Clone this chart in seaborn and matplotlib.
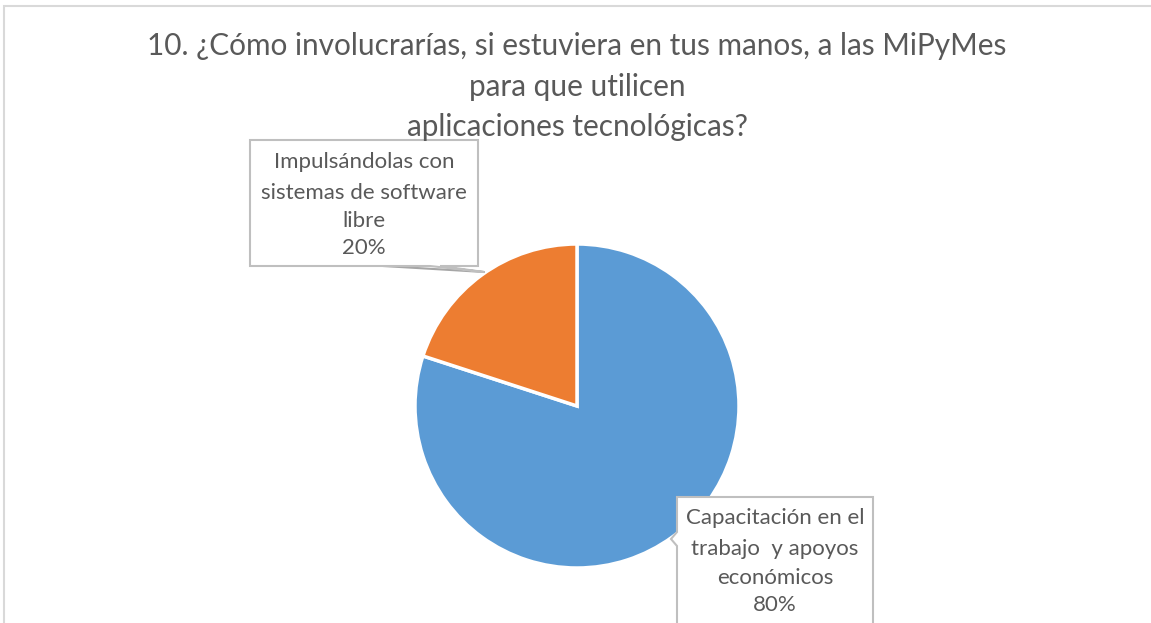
import matplotlib
matplotlib.use("Agg")
import matplotlib.pyplot as plt
from matplotlib.patches import Rectangle, Polygon
from matplotlib.lines import Line2D
import seaborn as sns

# survey answers
categories = ['Capacitación en el\ntrabajo  y apoyos\neconómicos',
              'Impulsándolas con\nsistemas de software\nlibre']
shares = [80, 20]
title = '10. ¿Cómo involucrarías, si estuviera en tus manos, a las MiPyMes\npara que utilicen\naplicaciones tecnológicas?'

sns.set_theme(style='white')
plt.rcParams['font.family'] = ['Lato', 'DejaVu Sans']
colors = sns.color_palette(['#5B9BD5', '#ED7D31'])
txt_col = '#595959'

W, H = 1151, 623
fig = plt.figure(figsize=(W/100, H/100), dpi=100)

def fx(x): return x / W
def fy(y): return 1 - y / H

# outer chart frame (only top/left visible)
fig.patches.append(Rectangle((fx(4), fy(640)), fx(1200), fy(6) - fy(640), transform=fig.transFigure,
                             fill=False, ec='#d9d9d9', lw=1.5))

# pie axes: centre (577,406), radius 162 px
cx, cy, r = 577, 406, 162
ax = fig.add_axes([fx(cx - r), fy(cy + r), fx(2*r), (2*r)/H])
ax.pie(shares, colors=colors, startangle=90, counterclock=False,
       wedgeprops=dict(edgecolor='white', linewidth=2.5))
ax.set_xlim(-1, 1); ax.set_ylim(-1, 1)
ax.set_aspect('equal')
ax.axis('off')

for t, yy in zip(title.split('\n'), [46, 87, 127]):
    fig.text(fx(577), fy(yy), t, ha='center', va='center', fontsize=21.4, color=txt_col)

# data label callouts
def label_box(pts, lines, cxl, ys):
    fig.patches.append(Polygon([(fx(x), fy(y)) for x, y in pts], closed=True, transform=fig.transFigure,
                               fc='white', ec='#bfbfbf', lw=1.5, zorder=3))
    for t, yy in zip(lines, ys):
        fig.text(fx(cxl), fy(yy), t, ha='center', va='center', fontsize=16, color=txt_col, zorder=4)

lab0 = categories[0].split('\n') + [f'{shares[0]}%']
lab1 = categories[1].split('\n') + [f'{shares[1]}%']

# small slice label, pointer from bottom edge to the pie
fig.lines.append(Line2D([fx(383), fx(484)], [fy(266), fy(272)], transform=fig.transFigure,
                        color='#a6a6a6', lw=1.5, zorder=2))
label_box([(250, 140), (478, 140), (478, 266), (440, 266), (484, 272), (430, 266), (250, 266)],
          lab1, 364, [162, 193, 221, 248])
# large slice label with a small notch on its left edge
label_box([(677, 497), (873, 497), (873, 640), (677, 640), (677, 546), (671, 539), (677, 532)],
          lab0, 775, [518, 549, 578, 605])

fig.savefig('out.png', dpi=100, facecolor='white')
